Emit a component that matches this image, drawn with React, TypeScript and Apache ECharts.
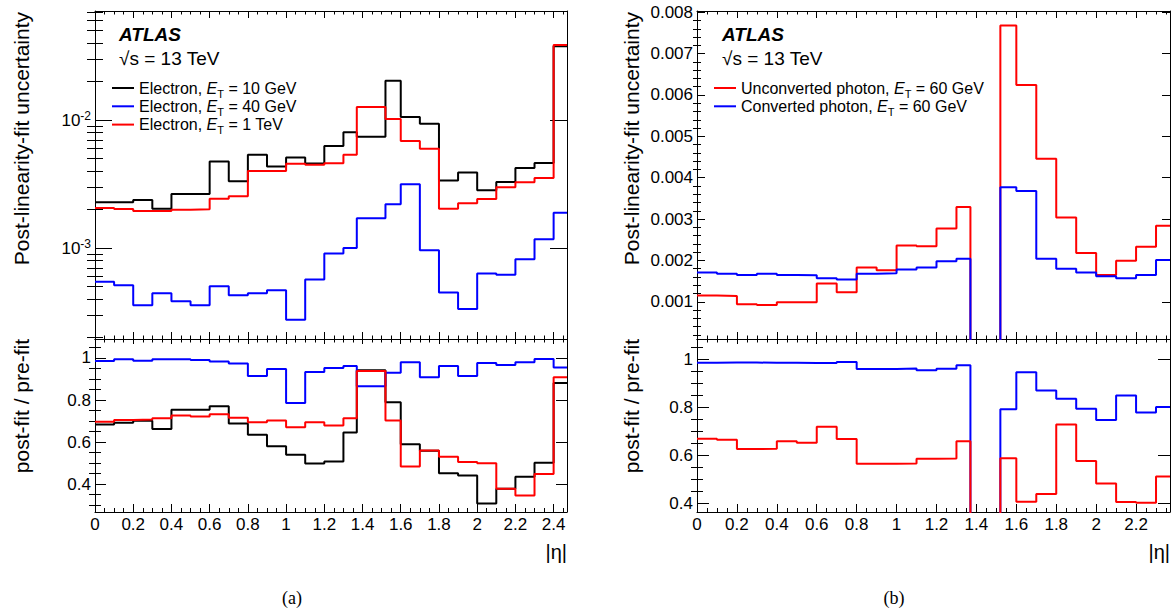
import { useEffect, useRef } from "react";
import * as echarts from "echarts";

const FONT = "'Liberation Sans', Arial, Helvetica, sans-serif";
const SERIF = "'Liberation Serif', 'Times New Roman', serif";

// ---------- bin edges in |eta| ----------
const etaEdgesA = [0, 0.1, 0.2, 0.3, 0.4, 0.5, 0.6, 0.7, 0.8, 0.9, 1.0, 1.1, 1.2, 1.3, 1.37, 1.52, 1.6, 1.7, 1.8, 1.9, 2.0, 2.1, 2.2, 2.3, 2.4, 2.47];
const etaEdgesB = [0, 0.1, 0.2, 0.3, 0.4, 0.5, 0.6, 0.7, 0.8, 0.9, 1.0, 1.1, 1.2, 1.3, 1.37, 1.52, 1.6, 1.7, 1.8, 1.9, 2.0, 2.1, 2.2, 2.3, 2.37];

// ---------- (a) electrons: post-linearity-fit uncertainty ----------
const electron10GeV = [0.00228, 0.00228, 0.00237, 0.00203, 0.00265, 0.00265, 0.00475, 0.00333, 0.00535, 0.00434, 0.0051, 0.00458, 0.00626, 0.00805, 0.0074, 0.0203, 0.01055, 0.00936, 0.00337, 0.00389, 0.00283, 0.00329, 0.00423, 0.00463, 0.0378];
const electron40GeV = [0.000545, 0.000513, 0.000358, 0.000444, 0.000385, 0.000358, 0.000504, 0.000428, 0.000444, 0.000469, 0.000276, 0.000569, 0.000908, 0.001, 0.00171, 0.0022, 0.00315, 0.000964, 0.00045, 0.000335, 0.000634, 0.000618, 0.00082, 0.001175, 0.00189];
const electron1TeV = [0.00206, 0.00202, 0.00195, 0.00195, 0.00199, 0.00201, 0.00243, 0.00254, 0.00401, 0.00401, 0.00455, 0.00447, 0.00461, 0.00535, 0.01264, 0.0102, 0.00685, 0.00596, 0.00203, 0.00224, 0.00242, 0.00299, 0.00327, 0.00353, 0.0386];

// ---------- (a) electrons: post-fit / pre-fit ----------
const ratio10GeV = [0.684, 0.692, 0.702, 0.662, 0.754, 0.754, 0.77, 0.689, 0.635, 0.581, 0.54, 0.498, 0.508, 0.646, 0.941, 0.79, 0.59, 0.559, 0.452, 0.441, 0.308, 0.378, 0.435, 0.502, 0.881];
const ratio40GeV = [0.986, 0.994, 0.987, 0.994, 0.994, 0.99, 0.983, 0.973, 0.914, 0.948, 0.786, 0.933, 0.952, 0.962, 0.865, 0.93, 0.979, 0.908, 0.962, 0.914, 0.976, 0.967, 0.979, 0.995, 0.954];
const ratio1TeV = [0.697, 0.705, 0.708, 0.713, 0.727, 0.722, 0.732, 0.716, 0.695, 0.703, 0.671, 0.694, 0.679, 0.713, 0.938, 0.703, 0.484, 0.56, 0.53, 0.506, 0.5, 0.378, 0.346, 0.448, 0.908];

// ---------- (b) photons: post-linearity-fit uncertainty ----------
const unconvPhoton60 = [0.00115, 0.00114, 0.00094, 0.00092, 0.00099, 0.00099, 0.00144, 0.00123, 0.00183, 0.00176, 0.00236, 0.00234, 0.00277, 0.00329, 0, 0.00768, 0.00624, 0.00446, 0.00304, 0.00218, 0.00165, 0.00199, 0.00233, 0.00284];
const convPhoton60 = [0.00171, 0.00168, 0.00165, 0.00168, 0.00165, 0.00164, 0.00157, 0.00154, 0.00168, 0.00169, 0.00178, 0.00183, 0.00198, 0.00204, 0, 0.00377, 0.00368, 0.00204, 0.0018, 0.00171, 0.00162, 0.00157, 0.00165, 0.00201];

// ---------- (b) photons: post-fit / pre-fit ----------
const ratioUnconv60 = [0.67, 0.666, 0.627, 0.628, 0.659, 0.653, 0.72, 0.669, 0.566, 0.566, 0.567, 0.587, 0.588, 0.659, 0, 0.589, 0.408, 0.44, 0.729, 0.577, 0.484, 0.407, 0.403, 0.513];
const ratioConv60 = [0.986, 0.987, 0.987, 0.986, 0.986, 0.985, 0.985, 0.989, 0.96, 0.96, 0.962, 0.955, 0.961, 0.976, 0, 0.793, 0.947, 0.871, 0.836, 0.795, 0.748, 0.85, 0.779, 0.802];

// ---------- tick labels ----------
const xTickLabelsA = [0, 0.2, 0.4, 0.6, 0.8, 1, 1.2, 1.4, 1.6, 1.8, 2, 2.2, 2.4];
const xTickLabelsB = [0, 0.2, 0.4, 0.6, 0.8, 1, 1.2, 1.4, 1.6, 1.8, 2, 2.2];
const logTickLabelsA = [0.001, 0.01];
const uncTickLabelsB = [0.001, 0.002, 0.003, 0.004, 0.005, 0.006, 0.007, 0.008];
const ratioTickLabels = [0.4, 0.6, 0.8, 1];

// ---------- names ----------
const NAME_E10 = "Electron, E_T = 10 GeV";
const NAME_E40 = "Electron, E_T = 40 GeV";
const NAME_E1T = "Electron, E_T = 1 TeV";
const NAME_UNC = "Unconverted photon, E_T = 60 GeV";
const NAME_CON = "Converted photon, E_T = 60 GeV";

const BLACK = "#000000";
const BLUE = "#0000ff";
const RED = "#ff0000";

function steps(edges: number[], vals: number[]) {
  const pts: number[][] = [];
  vals.forEach((v, i) => {
    pts.push([edges[i], v]);
    pts.push([edges[i + 1], v]);
  });
  return pts;
}

function seq(start: number, end: number, step: number) {
  const out: number[] = [];
  const n = Math.floor((end - start) / step + 1e-9);
  for (let k = 0; k <= n; k++) out.push(+(start + k * step).toFixed(7));
  return out;
}

function notIn(list: number[], majors: number[]) {
  return list.filter((v) => !majors.some((m) => Math.abs(m - v) < 1e-9 * Math.max(1, Math.abs(m))));
}

const tickLine = { color: BLACK, width: 1 };

function makeX(grid: number, max: number, majors: number[], labels: boolean, bot: [number, number], top: [number, number]) {
  const minors = notIn(seq(0, max, 0.05), majors);
  const base: any = { type: "value", gridIndex: grid, min: 0, max, splitLine: { show: false }, axisPointer: { show: false }, silent: true };
  const line = { show: true, onZero: false, lineStyle: { color: BLACK, width: 1 } };
  return [
    {
      ...base, position: "bottom", axisLine: line,
      axisTick: { show: true, inside: true, length: bot[0], customValues: majors, lineStyle: tickLine },
      axisLabel: {
        show: labels, customValues: majors, margin: 4, color: BLACK, fontSize: 17, fontFamily: FONT,
        formatter: (v: number) => String(Math.round(v * 10) / 10),
      },
    },
    {
      ...base, position: "bottom", axisLine: { show: false },
      axisTick: { show: true, inside: true, length: bot[1], customValues: minors, lineStyle: tickLine },
      axisLabel: { show: false },
    },
    {
      ...base, position: "top", axisLine: line,
      axisTick: { show: true, inside: true, length: top[0], customValues: majors, lineStyle: tickLine },
      axisLabel: { show: false },
    },
    {
      ...base, position: "top", axisLine: { show: false },
      axisTick: { show: true, inside: true, length: top[1], customValues: minors, lineStyle: tickLine },
      axisLabel: { show: false },
    },
  ];
}

function makeY(grid: number, type: string, min: number, max: number, majors: number[], minors: number[], lens: [number, number], fmt: (v: number) => string) {
  const base: any = { type, gridIndex: grid, min, max, splitLine: { show: false }, axisPointer: { show: false }, silent: true };
  if (type === "log") base.logBase = 10;
  const line = { show: true, onZero: false, lineStyle: { color: BLACK, width: 1 } };
  const mk = (pos: string, major: boolean, labels: boolean) => ({
    ...base,
    position: pos,
    axisLine: major ? line : { show: false },
    axisTick: { show: true, inside: true, length: major ? lens[0] : lens[1], customValues: major ? majors : minors, lineStyle: tickLine },
    axisLabel: labels
      ? {
          show: true, customValues: majors, margin: 4, color: BLACK, fontSize: 17, fontFamily: FONT, formatter: fmt,
          rich: { sup: { fontSize: 12, fontFamily: FONT, color: BLACK, padding: [0, 0, 9, 0] } },
        }
      : { show: false },
  });
  return [mk("left", true, true), mk("left", false, false), mk("right", true, false), mk("right", false, false)];
}

function series(name: string, color: string, xi: number, data: number[][]) {
  return {
    type: "line", name, xAxisIndex: xi, yAxisIndex: xi, data,
    showSymbol: false, symbol: "none", clip: true, silent: true,
    lineStyle: { color, width: 2 }, itemStyle: { color },
    emphasis: { disabled: true },
  };
}

function richName(name: string) {
  const [pre, post] = name.split("E_T");
  return `${pre}{i|E}{sub|T}${post}`;
}

function txt(x: number, y: number, text: string, font: string, align = "left", vAlign = "middle", rotation = 0) {
  return {
    type: "text", x, y, rotation, silent: true,
    style: { text, font, fill: BLACK, align, verticalAlign: vAlign, textAlign: align, textVerticalAlign: vAlign },
  };
}

function buildOption() {
  const logMinors = notIn(
    [2, 3, 4, 5, 6, 7, 8, 9].map((m) => m * 1e-4)
      .concat([2, 3, 4, 5, 6, 7, 8, 9].map((m) => m * 1e-3))
      .concat([2, 3, 4, 5, 6, 7].map((m) => m * 1e-2))
      .filter((v) => v > 1.95e-4 && v < 0.0711),
    logTickLabelsA
  );
  const ratioMinorsA = notIn(seq(0.3, 1.05, 0.05), ratioTickLabels);
  const ratioMinorsB = notIn(seq(0.4, 1.05, 0.05), ratioTickLabels);
  const uncMinorsB = notIn(seq(0.0002, 0.008, 0.0002), uncTickLabelsB);

  const fmtRatio = (v: number) => String(Math.round(v * 10) / 10);
  const fmtLog = (v: number) => `10{sup|${Math.round(Math.log10(v))}}`;
  const fmtUnc = (v: number) => v.toFixed(3);

  const legendText = {
    fontSize: 16, fontFamily: FONT, color: BLACK, lineHeight: 17,
    rich: {
      i: { fontSize: 16, fontStyle: "italic", fontFamily: FONT, color: BLACK, lineHeight: 17 },
      sub: { fontSize: 11, fontFamily: FONT, color: BLACK, lineHeight: 17, padding: [11, 0, 0, 0] },
    },
  };

  const legendBase = {
    orient: "vertical", top: 77, padding: 0, icon: "rect",
    itemWidth: 22, itemHeight: 2, itemGap: -3.7, selectedMode: false, formatter: richName, textStyle: legendText,
  };

  return {
    animation: false,
    backgroundColor: "#ffffff",
    textStyle: { fontFamily: FONT, color: BLACK },
    grid: [
      { left: 95, top: 11, width: 472, height: 328, outerBoundsMode: "none" },
      { left: 95, top: 339, width: 472, height: 173, outerBoundsMode: "none" },
      { left: 697, top: 11, width: 473, height: 328, outerBoundsMode: "none" },
      { left: 697, top: 339, width: 473, height: 173, outerBoundsMode: "none" },
    ],
    xAxis: [
      ...makeX(0, 2.47, xTickLabelsA, false, [7, 3.5], [7, 3.5]),
      ...makeX(1, 2.47, xTickLabelsA, true, [8, 4], [5, 3.5]),
      ...makeX(2, 2.37, xTickLabelsB, false, [7, 3.5], [7, 3.5]),
      ...makeX(3, 2.37, xTickLabelsB, true, [8, 4], [5, 3.5]),
    ],
    yAxis: [
      ...makeY(0, "log", 1.95e-4, 0.0711, logTickLabelsA, logMinors, [17, 8], fmtLog),
      ...makeY(1, "value", 0.268, 1.09, ratioTickLabels, ratioMinorsA, [11, 6], fmtRatio),
      ...makeY(2, "value", 0.0001, 0.00803, uncTickLabelsB, uncMinorsB, [8, 4], fmtUnc),
      ...makeY(3, "value", 0.365, 1.085, ratioTickLabels, ratioMinorsB, [12, 6], fmtRatio),
    ],
    legend: [
      { ...legendBase, data: [NAME_E10, NAME_E40, NAME_E1T], left: 112 },
      { ...legendBase, data: [NAME_UNC, NAME_CON], left: 714 },
    ],
    series: [
      series(NAME_E10, BLACK, 0, steps(etaEdgesA, electron10GeV)),
      series(NAME_E40, BLUE, 0, steps(etaEdgesA, electron40GeV)),
      series(NAME_E1T, RED, 0, steps(etaEdgesA, electron1TeV)),
      series(NAME_E10, BLACK, 4, steps(etaEdgesA, ratio10GeV)),
      series(NAME_E40, BLUE, 4, steps(etaEdgesA, ratio40GeV)),
      series(NAME_E1T, RED, 4, steps(etaEdgesA, ratio1TeV)),
      series(NAME_UNC, RED, 8, steps(etaEdgesB, unconvPhoton60)),
      series(NAME_CON, BLUE, 8, steps(etaEdgesB, convPhoton60)),
      series(NAME_CON, BLUE, 12, steps(etaEdgesB, ratioConv60)),
      series(NAME_UNC, RED, 12, steps(etaEdgesB, ratioUnconv60)),
    ],
    graphic: [
      txt(119, 34, "ATLAS", `italic bold 19px ${FONT}`),
      txt(119, 58, "√s = 13 TeV", `19px ${FONT}`),
      txt(722, 34, "ATLAS", `italic bold 19px ${FONT}`),
      txt(722, 58, "√s = 13 TeV", `19px ${FONT}`),
      txt(21, 12, "Post-linearity-fit uncertainty", `21px ${FONT}`, "right", "middle", Math.PI / 2),
      txt(21, 339, "post-fit / pre-fit", `21px ${FONT}`, "right", "middle", Math.PI / 2),
      txt(631, 12, "Post-linearity-fit uncertainty", `21px ${FONT}`, "right", "middle", Math.PI / 2),
      txt(631, 339, "post-fit / pre-fit", `21px ${FONT}`, "right", "middle", Math.PI / 2),
      txt(567, 552, "|η|", `20px ${FONT}`, "right", "middle"),
      txt(1170, 552, "|η|", `20px ${FONT}`, "right", "middle"),
      txt(292, 598, "(a)", `18px ${SERIF}`, "center", "middle"),
      txt(894, 598, "(b)", `18px ${SERIF}`, "center", "middle"),
    ],
  };
}

export default function App() {
  const ref = useRef<HTMLDivElement>(null);
  useEffect(() => {
    const chart = echarts.init(ref.current!, null, { renderer: "svg" });
    chart.setOption(buildOption() as any);
    return () => chart.dispose();
  }, []);
  return (
    <div
      ref={ref}
      style={{ position: "absolute", left: 0, top: 0, width: 1176, height: 612, background: "#ffffff" }}
    />
  );
}
